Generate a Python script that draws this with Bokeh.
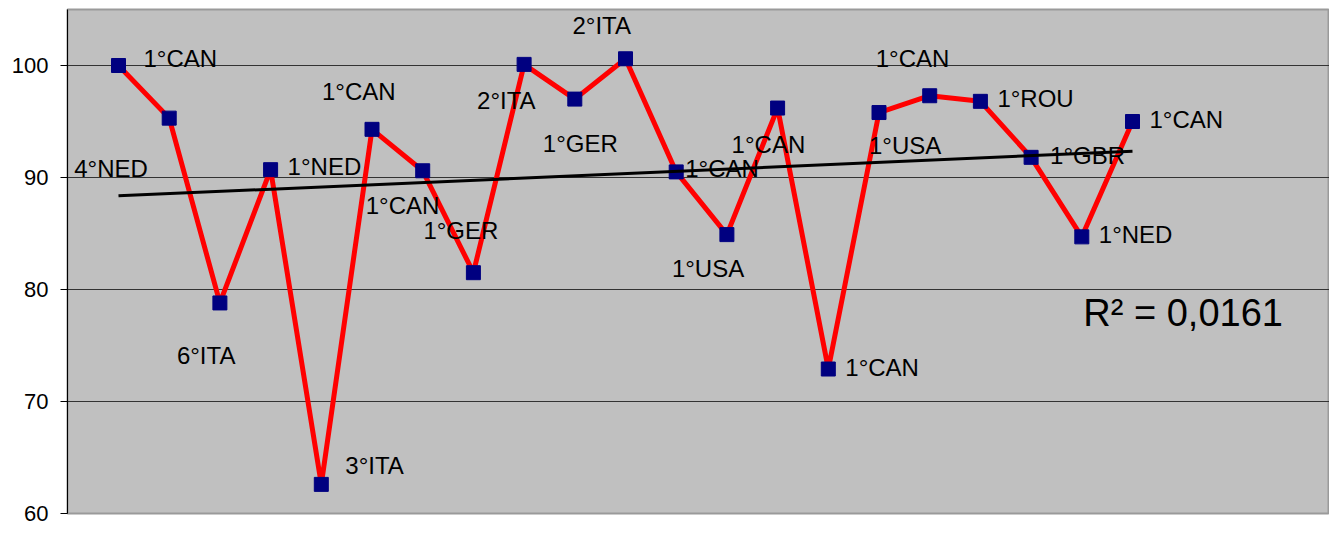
import numpy as np
from bokeh.plotting import figure
from bokeh.models import ColumnDataSource, FixedTicker, Range1d, Label
from bokeh.core.properties import value
from bokeh.embed import file_html
from bokeh.resources import INLINE

# ---- data ----
results = [100.0, 95.3, 78.8, 90.7, 62.6, 94.3, 90.6, 81.5, 100.1, 97.0, 100.6,
           90.5, 84.9, 96.2, 72.9, 95.8, 97.3, 96.8, 91.8, 84.7, 95.0]
placings = ["1°CAN", "4°NED", "6°ITA", "1°NED", "3°ITA", "1°CAN", "1°CAN", "1°GER",
            "2°ITA", "1°GER", "2°ITA", "1°CAN", "1°USA", "1°CAN", "1°CAN", "1°USA",
            "1°CAN", "1°ROU", "1°GBR", "1°NED", "1°CAN"]
y_ticks = [60, 70, 80, 90, 100]
r2_text = "R² = 0,0161"

# ---- label placement (screen px from point: right, down) ----
label_dx = [25, -95, -43, 17, 24, -50, -57, -50, -47, -32, -53, 9, -55, -46, 17, -10, -54, 17, 19, 17, 17]
label_dy = [2, 59, 62, 6, -10, -29, 44, -33, 45, 53, -24, 6, 43, 45, 7, 42, -28, 6, 7, 7, 7]
BASE_FIX = -9  # screen px

FONT = "Liberation Sans"
W, H = 1329, 538
BL, BR, BT, BB = 67, 0, 9, 25
X0 = -1.006
X1 = X0 + (W - BL - BR) / 50.7
Y0, Y1 = 60, 105
px_x = (W - BL - BR) / (X1 - X0)
px_y = (H - BT - BB) / (Y1 - Y0)

xs = list(range(len(results)))
lx = [x + dx / px_x for x, dx in zip(xs, label_dx)]
ly = [v - (dy + BASE_FIX) / px_y for v, dy in zip(results, label_dy)]

src = ColumnDataSource(dict(x=xs, y=results))
lab = ColumnDataSource(dict(x=lx, y=ly, t=placings))

p = figure(width=W, height=H, output_backend="svg", toolbar_location=None,
           x_range=Range1d(X0, X1), y_range=Range1d(Y0, Y1),
           min_border_left=BL, min_border_right=BR, min_border_top=BT, min_border_bottom=BB)
p.background_fill_color = "#C0C0C0"
p.border_fill_color = "white"
p.outline_line_color = "#9a9a9a"
p.outline_line_width = 2

p.xaxis.visible = False
p.xgrid.visible = False
p.ygrid.ticker = FixedTicker(ticks=y_ticks)
p.ygrid.grid_line_color = "#333333"
p.ygrid.grid_line_width = 1

ax = p.yaxis[0]
ax.ticker = FixedTicker(ticks=y_ticks)
ax.axis_line_color = "black"
ax.axis_line_width = 1
ax.major_tick_line_color = "black"
ax.major_tick_out = 7
ax.major_tick_in = 0
ax.minor_tick_line_color = None
ax.major_label_standoff = 12
ax.major_label_text_font = FONT
ax.major_label_text_font_size = "22px"
ax.major_label_text_color = "black"

p.line("x", "y", source=src, line_color="#FF0000", line_width=5)
p.scatter("x", "y", source=src, marker="square", size=14, fill_color="#000080", line_color="#000080")
p.text("x", "y", text="t", source=lab, text_font=value(FONT), text_font_size=value("24px"),
       text_align="left", text_baseline="alphabetic", text_color="black")

slope, intercept = np.polyfit(xs, results, 1)
tx = [xs[0], xs[-1]]
p.line(tx, [intercept + slope * t for t in tx], line_color="black", line_width=3)

p.add_layout(Label(x=19.03, y=77.05 + 10 / px_y, text=r2_text, text_font=FONT, text_font_size="38px",
                   text_baseline="alphabetic", text_align="left", text_color="black"))

open("out.html", "w").write(file_html(p, INLINE))
